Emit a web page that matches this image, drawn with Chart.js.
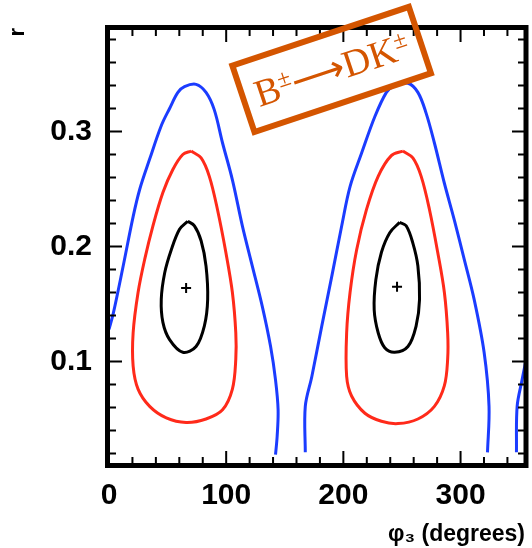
<!DOCTYPE html>
<html lang="en">
<head>
  <meta charset="UTF-8">
  <title>phi3 - r contours</title>
  <script src="https://cdn.jsdelivr.net/npm/chart.js"></script>
  <style>
    html, body { margin: 0; padding: 0; background: #fff; }
    #wrap { width: 532px; height: 548px; }
  </style>
</head>
<body>
  <div id="wrap"><canvas id="contourChart" width="532" height="548"></canvas></div>

  <script>
    // axis labels
    const xTicks = [0, 100, 200, 300];
    const yTicks = [0.1, 0.2, 0.3];

    // best fit points
    const centerPhi = [65.8, 245.8];
    const centerR = [0.164, 0.165];

    // inner (black) contours, starting at the pointed top
    const black1Phi = [67.2, 60.2, 53.1, 47.5, 44.6, 46.0, 51.7, 63.0, 74.3, 81.4, 84.2, 82.8, 78.6, 72.9, 67.2];
    const black1R = [0.222, 0.215, 0.197, 0.177, 0.154, 0.134, 0.119, 0.108, 0.113, 0.131, 0.154, 0.183, 0.205, 0.218, 0.222];
    const black2Phi = [248.0, 239.6, 232.5, 227.7, 226.3, 229.7, 235.3, 243.8, 255.1, 262.1, 265.0, 263.6, 259.3, 253.6, 248.0];
    const black2R = [0.221, 0.212, 0.195, 0.171, 0.145, 0.125, 0.112, 0.108, 0.113, 0.131, 0.154, 0.183, 0.203, 0.218, 0.221];

    // middle (red) contours
    const red1Phi = [70.1, 63.0, 54.5, 46.0, 37.5, 30.5, 24.8, 20.6, 20.6, 24.8, 34.7, 48.9, 65.8, 82.8, 96.9, 105.3, 108.2, 108.2, 105.3, 99.7, 92.6, 85.6, 78.6, 70.1];
    const red1R = [0.283, 0.280, 0.267, 0.247, 0.218, 0.189, 0.160, 0.125, 0.096, 0.076, 0.061, 0.051, 0.047, 0.050, 0.058, 0.076, 0.102, 0.125, 0.160, 0.195, 0.232, 0.261, 0.277, 0.283];
    const red2Phi = [250.8, 240.9, 229.7, 219.7, 211.3, 205.7, 202.8, 202.8, 207.0, 218.4, 232.5, 246.6, 263.6, 277.7, 286.2, 289.0, 289.0, 286.2, 280.5, 273.5, 266.4, 259.3, 250.8];
    const red2R = [0.283, 0.279, 0.261, 0.232, 0.197, 0.160, 0.125, 0.087, 0.070, 0.055, 0.048, 0.046, 0.050, 0.061, 0.079, 0.102, 0.125, 0.160, 0.195, 0.232, 0.261, 0.277, 0.283];

    // outer (blue) contours
    const blue1Phi = [0, 3.7, 12.1, 20.6, 26.3, 34.7, 44.6, 51.7, 58.8, 64.4, 74.3, 82.8, 89.8, 96.9, 105.3, 113.8, 122.3, 130.8, 137.9, 142.1, 144.3, 143.5, 142.1];
    const blue1R = [0.128, 0.142, 0.183, 0.226, 0.250, 0.276, 0.305, 0.320, 0.334, 0.339, 0.341, 0.334, 0.319, 0.290, 0.258, 0.218, 0.183, 0.148, 0.113, 0.084, 0.058, 0.035, 0.019];
    const blue2Phi = [167.5, 167.5, 173.1, 181.6, 190.1, 198.6, 205.7, 215.5, 226.9, 236.7, 242.4, 255.1, 263.6, 270.6, 277.7, 286.2, 294.7, 303.1, 311.6, 320.1, 324.3, 323.0];
    const blue2R = [0.021, 0.061, 0.087, 0.131, 0.174, 0.218, 0.252, 0.281, 0.313, 0.334, 0.339, 0.342, 0.334, 0.316, 0.290, 0.255, 0.223, 0.189, 0.154, 0.108, 0.061, 0.021];
    const blue3Phi = [347.7, 348.3, 352.5, 355.4, 360];
    const blue3R = [0.021, 0.061, 0.084, 0.099, 0.125];

    // label box
    const boxPhi = 190;
    const boxR = 0.354;

    const BLUE = '#1b3cff';
    const RED = '#ff2a1a';
    const ORANGE = '#d45500';

    const toPoints = (xs, ys) => xs.map((x, i) => ({ x: x, y: ys[i] }));

    const curve = (label, xs, ys, color) => ({
      label: label,
      data: toPoints(xs, ys),
      showLine: true,
      borderColor: color,
      borderWidth: 3,
      pointRadius: 0,
      tension: 0.35
    });

    // frame with inward ticks on all four sides
    const framePlugin = {
      id: 'frame',
      afterDatasetsDraw(chart) {
        const { ctx, chartArea: a, scales: { x, y } } = chart;
        ctx.save();
        ctx.strokeStyle = '#000';
        ctx.lineWidth = 2;
        ctx.beginPath();
        for (let v = 0; v <= 355; v += 20) {
          const px = x.getPixelForValue(v);
          const len = v % 100 === 0 ? 14 : 8;
          ctx.moveTo(px, a.bottom); ctx.lineTo(px, a.bottom - len);
          ctx.moveTo(px, a.top); ctx.lineTo(px, a.top + len);
        }
        for (let k = 1; k <= 19; k++) {
          const py = y.getPixelForValue(k * 0.02);
          const len = k % 5 === 0 ? 13 : 7;
          ctx.moveTo(a.left, py); ctx.lineTo(a.left + len, py);
          ctx.moveTo(a.right, py); ctx.lineTo(a.right - len, py);
        }
        ctx.stroke();
        ctx.lineWidth = 5;
        ctx.strokeRect(a.left - 1.5, a.top - 0.5, a.right - a.left + 2.5, a.bottom - a.top + 1);
        ctx.restore();
      }
    };

    // tilted B±→DK± label
    const boxPlugin = {
      id: 'decayBox',
      afterDraw(chart) {
        const { ctx, scales: { x, y } } = chart;
        ctx.save();
        ctx.translate(x.getPixelForValue(boxPhi), y.getPixelForValue(boxR));
        ctx.rotate(-18.4 * Math.PI / 180);
        ctx.strokeStyle = ORANGE;
        ctx.lineWidth = 6;
        ctx.strokeRect(-93, -35, 186, 70);

        const big = '38px "Liberation Serif", serif';
        const small = '24px "Liberation Serif", serif';
        const parts = [['B', big, 0], ['±', small, -12], ['⟶', big, 0], ['D', big, 0], ['K', big, 0], ['±', small, -12]];
        let total = 0;
        parts.forEach(p => { ctx.font = p[1]; total += ctx.measureText(p[0]).width; });
        let cx = -total / 2;
        ctx.fillStyle = ORANGE;
        ctx.textBaseline = 'alphabetic';
        parts.forEach(p => {
          ctx.font = p[1];
          ctx.fillText(p[0], cx, 13 + p[2]);
          cx += ctx.measureText(p[0]).width;
        });
        ctx.restore();
      }
    };

    Chart.defaults.font.family = '"Liberation Sans", Arial, sans-serif';
    Chart.defaults.color = '#000';

    new Chart(document.getElementById('contourChart'), {
      type: 'scatter',
      data: {
        datasets: [
          curve('outer', blue1Phi, blue1R, BLUE),
          curve('outer', blue2Phi, blue2R, BLUE),
          curve('outer', blue3Phi, blue3R, BLUE),
          curve('middle', red1Phi, red1R, RED),
          curve('middle', red2Phi, red2R, RED),
          curve('inner', black1Phi, black1R, '#000'),
          curve('inner', black2Phi, black2R, '#000'),
          {
            label: 'best fit',
            data: toPoints(centerPhi, centerR),
            pointStyle: 'cross',
            pointRadius: 5,
            borderColor: '#000',
            borderWidth: 2
          }
        ]
      },
      options: {
        responsive: false,
        animation: false,
        layout: { padding: { top: 28, right: 4, left: 0, bottom: 0 } },
        plugins: { legend: { display: false }, tooltip: { enabled: false } },
        scales: {
          x: {
            type: 'linear',
            min: 0,
            max: 355,
            grid: { display: false },
            border: { display: false },
            afterBuildTicks: s => { s.ticks = xTicks.map(v => ({ value: v })); },
            afterFit: s => { s.height = 83; s.paddingLeft = 0; s.paddingRight = 0; },
            ticks: { padding: 5, maxRotation: 0, autoSkip: false, font: { size: 30, weight: 'bold' } },
            title: { display: true, text: 'φ₃ (degrees)', align: 'end', padding: 0, font: { size: 23, weight: 'bold' } }
          },
          y: {
            min: 0.01,
            max: 0.39,
            grid: { display: false },
            border: { display: false },
            afterBuildTicks: s => { s.ticks = yTicks.map(v => ({ value: v })); },
            afterFit: s => { s.width = 109; s.paddingTop = 0; s.paddingBottom = 0; },
            ticks: { padding: 9, callback: v => v.toFixed(1), font: { size: 30, weight: 'bold' } },
            title: { display: true, text: 'r', align: 'end', padding: { top: 5, bottom: 0 }, font: { size: 22, weight: 'bold' } }
          }
        }
      },
      plugins: [framePlugin, boxPlugin]
    });
  </script>
</body>
</html>
